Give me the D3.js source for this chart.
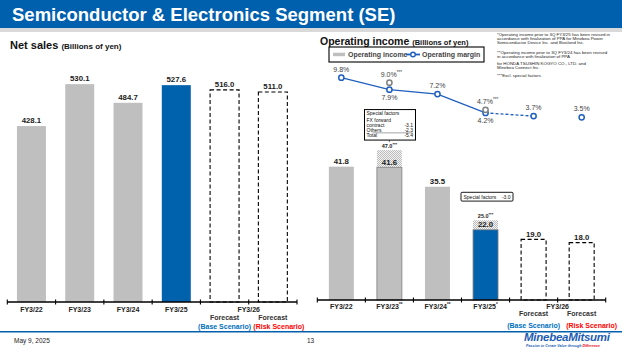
<!DOCTYPE html>
<html lang="en">
<meta charset="utf-8">
<script src="https://d3js.org/d3.v7.min.js"></script>
<head>
    <style type="text/css">
        body { margin: 0; background: white; }
        svg text { font-family: "Liberation Sans", Arial, sans-serif; }
    </style>
</head>
<body>
    <div id="chart"></div>
    <script>
        // data
        const salesCats = ["FY3/22", "FY3/23", "FY3/24", "FY3/25", "FY3/26B", "FY3/26R"];
        const salesVals = [428.1, 530.1, 484.7, 527.6, 516.0, 511.0];
        const barKind = ["past", "past", "past", "now", "fcst", "fcst"];

        const oiVals = [41.8, 41.6, 35.5, 22.0, 19.0, 18.0];
        const oiExcl = [null, 47.0, null, 25.0, null, null];
        const marginVals = [9.8, 7.9, 7.2, 4.2, 3.7, 3.5];
        const marginExcl = [null, 9.0, null, 4.7, null, null];

        const leftTicks = ["FY3/22", "FY3/23", "FY3/24", "FY3/25"];
        const rightTicks = [["FY3/22", ""], ["FY3/23", "**"], ["FY3/24", "**"], ["FY3/25", "*"]];

        const notes = [
            "*Operating income prior to 3Q FY3/25 has been revised in",
            "accordance with finalization of PPA for Minebea Power",
            "Semiconductor Device Inc. and Bioslond Inc.",
            "**Operating income prior to 3Q FY3/24 has been revised",
            "in accordance with finalization of PPA",
            "for HONDA TSUSHIN KOGYO CO., LTD. and",
            "Minebea Connect Inc.",
            "***Excl. special factors"
        ];
        const noteY = [35.5, 39.8, 43.8, 53.5, 57.8, 64.8, 69.2, 76.5];

        const special1 = [["FX forward", ""], ["contract", "-3.1"], ["Others", "-2.3"], ["Total", "-5.4"]];

        const BLUE = "#0061ad", GREY = "#bfbfbf";

        const svg = d3.select("#chart").append("svg")
            .attr("width", 622).attr("height", 350);

        const defs = svg.append("defs");
        const pat = defs.append("pattern").attr("id", "hatch")
            .attr("width", 2).attr("height", 2).attr("patternUnits", "userSpaceOnUse");
        pat.append("rect").attr("width", 2).attr("height", 2).attr("fill", "#f4f4f4");
        pat.append("rect").attr("width", 1).attr("height", 1).attr("fill", "#bbbbbb");
        pat.append("rect").attr("x", 1).attr("y", 1).attr("width", 1).attr("height", 1).attr("fill", "#bbbbbb");

        // header
        svg.append("rect").attr("x", 0).attr("y", 0).attr("width", 622).attr("height", 28).attr("fill", "#0060ae");
        svg.append("rect").attr("x", 0).attr("y", 28).attr("width", 622).attr("height", 4).attr("fill", "#d9d9d9");
        svg.append("text").attr("x", 12).attr("y", 21)
            .attr("fill", "white").attr("font-weight", "bold").attr("font-size", 18.5)
            .text("Semiconductor & Electronics Segment (SE)");

        // ---------- left: net sales ----------
        const t1 = svg.append("text").attr("x", 10).attr("y", 48.5).attr("font-weight", "bold").attr("fill", "#111");
        t1.append("tspan").attr("font-size", 11).text("Net sales ");
        t1.append("tspan").attr("font-size", 8).text("(Billions of yen)");

        const xL = d3.scaleBand().domain(salesCats).range([7.3, 297]);
        const yL = d3.scaleLinear().domain([0, 600]).range([302, 55.4]);
        const bwL = xL.step() * 0.6;

        const gL = svg.append("g");
        gL.selectAll("rect.bar").data(salesVals).join("rect")
            .attr("class", "bar")
            .attr("x", (d, i) => xL(salesCats[i]) + (xL.step() - bwL) / 2)
            .attr("y", d => yL(d))
            .attr("width", bwL)
            .attr("height", d => yL(0) - yL(d))
            .attr("fill", (d, i) => barKind[i] === "fcst" ? "white" : barKind[i] === "now" ? BLUE : GREY)
            .attr("stroke", (d, i) => barKind[i] === "fcst" ? "#000" : "none")
            .attr("stroke-width", 1.1)
            .attr("stroke-dasharray", "4,2.5");

        gL.selectAll("text.val").data(salesVals).join("text")
            .attr("class", "val")
            .attr("x", (d, i) => xL(salesCats[i]) + xL.step() / 2)
            .attr("y", d => yL(d) - 3)
            .attr("text-anchor", "middle").attr("font-size", 7.8).attr("font-weight", "bold")
            .attr("fill", "#1a1a1a")
            .text(d => d.toFixed(1));

        function drawAxis(g, x, y0) {
            const bounds = x.domain().map(c => x(c)).concat([x.range()[1]]);
            g.append("line").attr("x1", bounds[0]).attr("x2", bounds[bounds.length - 1])
                .attr("y1", y0).attr("y2", y0).attr("stroke", "#000").attr("stroke-width", 1.3);
            g.selectAll("line.tk").data(bounds).join("line").attr("class", "tk")
                .attr("x1", d => d).attr("x2", d => d)
                .attr("y1", y0 - 2.5).attr("y2", y0 + 2.5)
                .attr("stroke", "#000").attr("stroke-width", 1.1);
        }
        drawAxis(gL, xL, 302);

        gL.selectAll("text.xl").data(leftTicks).join("text").attr("class", "xl")
            .attr("x", d => xL(d) + xL.step() / 2).attr("y", 311.5)
            .attr("text-anchor", "middle").attr("font-size", 7).attr("font-weight", "bold").attr("fill", "#222")
            .text(d => d);

        function forecastLabels(g, x, yFy, yFc, ySc, riskShift) {
            const b = x("FY3/26B") + x.step() / 2, r = x("FY3/26R") + x.step() / 2;
            g.append("text").attr("x", x("FY3/26R")).attr("y", yFy).attr("text-anchor", "middle")
                .attr("font-size", 7).attr("font-weight", "bold").attr("fill", "#222").text("FY3/26");
            [b, r].forEach(cx => g.append("text").attr("x", cx).attr("y", yFc).attr("text-anchor", "middle")
                .attr("font-size", 7).attr("font-weight", "bold").attr("fill", "#333").text("Forecast"));
            g.append("text").attr("x", b).attr("y", ySc).attr("text-anchor", "middle")
                .attr("font-size", 7).attr("font-weight", "bold").attr("fill", "#0070c0").text("(Base Scenario)");
            g.append("text").attr("x", r + riskShift).attr("y", ySc).attr("text-anchor", "middle")
                .attr("font-size", 7).attr("font-weight", "bold").attr("fill", "#ff0000").text("(Risk Scenario)");
        }
        forecastLabels(gL, xL, 311.5, 319.5, 328.5, 6);

        // ---------- right: operating income ----------
        const t2 = svg.append("text").attr("x", 320).attr("y", 44.5).attr("font-weight", "bold").attr("fill", "#111");
        t2.append("tspan").attr("font-size", 10.5).text("Operating income ");
        t2.append("tspan").attr("font-size", 7.5).text("(Billions of yen)");

        // legend
        svg.append("rect").attr("x", 329).attr("y", 47).attr("width", 155).attr("height", 15)
            .attr("fill", "white").attr("stroke", "#000").attr("stroke-width", 1.1);
        svg.append("rect").attr("x", 333).attr("y", 52.7).attr("width", 12).attr("height", 3.5).attr("fill", GREY);
        svg.append("text").attr("x", 348).attr("y", 57.2).attr("font-size", 7).attr("font-weight", "bold")
            .attr("fill", "#444").text("Operating income");
        svg.append("line").attr("x1", 406).attr("x2", 420).attr("y1", 54.5).attr("y2", 54.5)
            .attr("stroke", "#1f5fbf").attr("stroke-width", 1.8);
        svg.append("circle").attr("cx", 413).attr("cy", 54.5).attr("r", 2.3)
            .attr("fill", "white").attr("stroke", "#1f5fbf").attr("stroke-width", 1.4);
        svg.append("text").attr("x", 422).attr("y", 57.2).attr("font-size", 7).attr("font-weight", "bold")
            .attr("fill", "#444").text("Operating margin");

        // notes
        svg.append("g").selectAll("text").data(notes).join("text")
            .attr("x", 497).attr("y", (d, i) => noteY[i])
            .attr("font-size", 4.4).attr("fill", "#222").text(d => d);

        const xR = d3.scaleBand().domain(salesCats).range([317.3, 605.7]);
        const yR = d3.scaleLinear().domain([0, 50]).range([300, 140.5]);
        const y2 = d3.scaleLinear().domain([0, 10]).range([139.4, 76.4]);
        const bwR = xR.step() * 0.52;
        const cxR = i => xR(salesCats[i]) + xR.step() / 2;

        const gR = svg.append("g");
        // hatched excl. special factors
        gR.selectAll("rect.ex").data(oiExcl.map((d, i) => [d, i]).filter(d => d[0] !== null)).join("rect")
            .attr("class", "ex")
            .attr("x", d => cxR(d[1]) - bwR / 2).attr("y", d => yR(d[0]))
            .attr("width", bwR).attr("height", d => yR(oiVals[d[1]]) - yR(d[0]))
            .attr("fill", "url(#hatch)");

        gR.selectAll("rect.bar").data(oiVals).join("rect")
            .attr("class", "bar")
            .attr("x", (d, i) => cxR(i) - bwR / 2)
            .attr("y", d => yR(d))
            .attr("width", bwR)
            .attr("height", d => yR(0) - yR(d))
            .attr("fill", (d, i) => barKind[i] === "fcst" ? "white" : barKind[i] === "now" ? BLUE : GREY)
            .attr("stroke", (d, i) => barKind[i] === "fcst" ? "#000" : (i === 1 || i === 3) ? "#808080" : "none")
            .attr("stroke-width", (d, i) => barKind[i] === "fcst" ? 1.1 : 0.8)
            .attr("stroke-dasharray", (d, i) => barKind[i] === "fcst" ? "4,2.5" : null);

        gR.selectAll("text.val").data(oiVals).join("text")
            .attr("class", "val")
            .attr("x", (d, i) => cxR(i)).attr("y", d => yR(d) - 2.5)
            .attr("text-anchor", "middle").attr("font-size", 7.8).attr("font-weight", "bold")
            .attr("fill", "#1a1a1a")
            .text(d => d.toFixed(1));

        const exLab = gR.selectAll("text.exv").data(oiExcl.map((d, i) => [d, i]).filter(d => d[0] !== null)).join("text")
            .attr("class", "exv")
            .attr("x", d => cxR(d[1])).attr("y", d => yR(d[0]) - 2.5)
            .attr("text-anchor", "middle").attr("font-size", 5.5).attr("font-weight", "bold").attr("fill", "#222");
        exLab.append("tspan").text(d => d[0].toFixed(1));
        exLab.append("tspan").attr("font-size", 4).attr("dy", -2).text("***");

        drawAxis(gR, xR, 300);
        const rl = gR.selectAll("text.xl").data(rightTicks).join("text").attr("class", "xl")
            .attr("x", d => xR(d[0]) + xR.step() / 2).attr("y", 308.5)
            .attr("text-anchor", "middle").attr("font-size", 7).attr("font-weight", "bold").attr("fill", "#222");
        rl.append("tspan").text(d => d[0]);
        rl.append("tspan").attr("font-size", 4.5).attr("dy", -2.5).text(d => d[1]);
        forecastLabels(gR, xR, 308.5, 315.5, 328, 10);

        // special factors boxes
        const b1x = 364.5, b1bottom = yR(47.0) - 10, b1y = b1bottom - 30.5;
        gR.append("line").attr("x1", cxR(1)).attr("x2", cxR(1)).attr("y1", b1bottom).attr("y2", yR(47.0) - 8)
            .attr("stroke", "#555").attr("stroke-width", 0.8);
        gR.append("rect").attr("x", b1x).attr("y", b1y).attr("width", 51).attr("height", 30.5)
            .attr("fill", "white").attr("stroke", "#000").attr("stroke-width", 1);
        gR.append("text").attr("x", b1x + 2).attr("y", b1y + 5.6).attr("font-size", 5).attr("fill", "#111").text("Special factors");
        special1.forEach((r, i) => {
            const yy = b1y + 12 + i * 5.2;
            gR.append("text").attr("x", b1x + 2).attr("y", yy).attr("font-size", 5).attr("fill", "#111").text(r[0]);
            gR.append("text").attr("x", b1x + 48.5).attr("y", yy).attr("text-anchor", "end").attr("font-size", 5).attr("fill", "#111").text(r[1]);
        });
        gR.append("line").attr("x1", b1x + 8).attr("x2", b1x + 48).attr("y1", b1y + 23.3).attr("y2", b1y + 23.3)
            .attr("stroke", "#666").attr("stroke-width", 0.6);

        gR.append("rect").attr("x", 461).attr("y", 192.3).attr("width", 52).attr("height", 8.8).attr("rx", 1)
            .attr("fill", "white").attr("stroke", "#000").attr("stroke-width", 0.9);
        gR.append("text").attr("x", 463.5).attr("y", 198.6).attr("font-size", 5).attr("fill", "#111").text("Special factors");
        gR.append("text").attr("x", 510.5).attr("y", 198.6).attr("text-anchor", "end").attr("font-size", 5).attr("fill", "#111").text("-3.0");

        // operating margin line
        const LINE = "#1f5fbf";
        const pts = marginVals.map((d, i) => [cxR(i), y2(d)]);
        gR.append("path").attr("d", d3.line()(pts.slice(0, 4)))
            .attr("fill", "none").attr("stroke", LINE).attr("stroke-width", 1.3);
        gR.append("path").attr("d", d3.line()(pts.slice(3, 5)))
            .attr("fill", "none").attr("stroke", LINE).attr("stroke-width", 1.3).attr("stroke-dasharray", "3,2");
        gR.selectAll("circle.m").data(marginVals).join("circle").attr("class", "m")
            .attr("cx", (d, i) => cxR(i)).attr("cy", d => y2(d)).attr("r", 2.6)
            .attr("fill", "white").attr("stroke", LINE).attr("stroke-width", 1.5);

        const exM = marginExcl.map((d, i) => [d, i]).filter(d => d[0] !== null);
        gR.selectAll("circle.ex").data(exM).join("circle").attr("class", "ex")
            .attr("cx", d => cxR(d[1])).attr("cy", d => y2(d[0])).attr("r", 2.6)
            .attr("fill", "white").attr("stroke", "#808080").attr("stroke-width", 1.5);
        const exMl = gR.selectAll("text.exm").data(exM).join("text").attr("class", "exm")
            .attr("x", d => cxR(d[1]) + 2).attr("y", d => y2(d[0]) - 6)
            .attr("text-anchor", "middle").attr("font-size", 7).attr("fill", "#404040");
        exMl.append("tspan").text(d => d[0].toFixed(1) + "%");
        exMl.append("tspan").attr("font-size", 4.5).attr("dy", -2.5).text("***");

        // margin labels: below for points that have a grey "excl." marker above
        gR.selectAll("text.ml").data(marginVals).join("text").attr("class", "ml")
            .attr("x", (d, i) => cxR(i)).attr("y", (d, i) => marginExcl[i] !== null ? y2(d) + 10.5 : y2(d) - 6)
            .attr("text-anchor", "middle").attr("font-size", 7).attr("fill", "#404040")
            .text(d => d.toFixed(1) + "%");

        // footer
        svg.append("rect").attr("x", 0).attr("y", 331).attr("width", 622).attr("height", 1.5).attr("fill", "#0060ae");
        svg.append("text").attr("x", 14).attr("y", 343).attr("font-size", 6.5).attr("fill", "#222").text("May 9, 2025");
        svg.append("text").attr("x", 307).attr("y", 343).attr("font-size", 6.5).attr("fill", "#222").text("13");
        svg.append("text").attr("x", 524).attr("y", 341).attr("font-size", 11.5).attr("font-weight", "bold")
            .attr("font-style", "italic").attr("fill", "#1d5cb4").attr("textLength", 86).text("MinebeaMitsumi");
        const tag = svg.append("text").attr("x", 526).attr("y", 346.5).attr("font-size", 3.6).attr("font-weight", "bold")
            .attr("font-style", "italic").attr("fill", "#1d5cb4");
        tag.append("tspan").text("Passion to Create Value through ");
        tag.append("tspan").attr("fill", "#e60012").text("Difference");
    </script>
</body>
</html>
